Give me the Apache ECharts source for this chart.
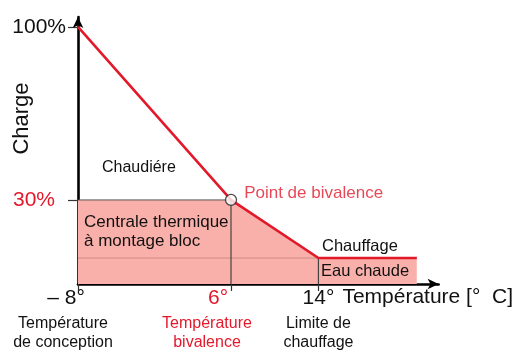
<!DOCTYPE html>
<html>
<head>
<meta charset="utf-8">
<script src="https://cdn.jsdelivr.net/npm/echarts@6/dist/echarts.min.js"></script>
<style>
  html, body { margin: 0; padding: 0; background: #fff; }
  #chart { width: 520px; height: 354px; }
</style>
</head>
<body>
<div id="chart"></div>
<script>
// Outdoor temperature ticks (°C) and their captions
const tempTicks = [-8, 6, 14];
const tempTickLabels = ['– 8°', '6°', '14°'];
const tempCaptions = [
  ['Température', 'de conception'],
  ['Température', 'bivalence'],
  ['Limite de', 'chauffage']
];
const tempAxisTitle = 'Température [°  C]';

// Load ticks (%)
const loadTicks = [30, 100];
const loadTickLabels = ['30%', '100%'];

// Total heat demand curve: temperature (°C) -> load (%)
const demandTemp = [-8, 6, 14, 23];
const demandLoad = [100, 30, 6.5, 6.5];

// Share covered by the CHP unit (capped at the bivalence load)
const chpTemp = [-8, 6, 14, 23];
const chpLoad = [30, 30, 6.5, 6.5];

// Hot-water base load (%) and its span (°C)
const hotWaterLoad = 6.5;
const hotWaterTemp = [-8, 14];

// Bivalence point [°C, %]
const bivalencePoint = [6, 30];

// Axis ranges
const tempMin = -8, tempMax = 25;
const loadMin = -4, loadMax = 104;

const RED = '#e2192b';
const FONT = '"Liberation Sans", Arial, sans-serif';

const chart = echarts.init(document.getElementById('chart'), null, { renderer: 'canvas' });

const pair = (xs, ys) => xs.map((x, i) => [x, ys[i]]);

// per-tick text styles (index 1 = bivalence temperature, in red)
const tickRich = {
  d0: { fontSize: 21, color: '#111', padding: [0, 24, 0, 0] },
  d1: { fontSize: 21, color: RED, padding: [0, 26, 0, 0] },
  d2: { fontSize: 21, color: '#111' }
};
const captionRich = {
  c0: { fontSize: 16, lineHeight: 19, color: '#111', textBorderWidth: 0, fontFamily: FONT },
  c1: { fontSize: 16, lineHeight: 19, color: RED, textBorderWidth: 0, fontFamily: FONT },
  c2: { fontSize: 16, lineHeight: 19, color: '#111', textBorderWidth: 0, fontFamily: FONT }
};
const captionShift = [-15, -24, 0];

const option = {
  animation: false,
  textStyle: { fontFamily: FONT },
  grid: {
    left: 78, top: 17, width: 33 * 153 / 14, height: 267,
    containLabel: false, outerBoundsMode: 'none'
  },
  xAxis: {
    type: 'value',
    min: tempMin,
    max: tempMax,
    axisLine: {
      show: true, onZero: false,
      symbol: ['none', 'arrow'], symbolSize: [8, 11],
      lineStyle: { color: '#000', width: 2.6 }
    },
    axisTick: {
      show: true, customValues: tempTicks, length: 7, inside: false,
      lineStyle: { color: '#333', width: 1.2 }
    },
    axisLabel: {
      show: true, customValues: tempTicks, margin: 4, hideOverlap: false,
      fontFamily: FONT, verticalAlign: 'top',
      formatter: function (v) {
        const i = tempTicks.indexOf(v);
        return i < 0 ? '' : '{d' + i + '|' + tempTickLabels[i] + '}';
      },
      rich: tickRich
    },
    splitLine: { show: false }
  },
  yAxis: {
    type: 'value',
    min: loadMin,
    max: loadMax,
    name: 'Charge',
    nameLocation: 'middle',
    nameRotate: 90,
    nameGap: 45,
    nameMoveOverlap: false,
    nameTextStyle: { fontSize: 22, color: '#111', padding: [0, 0, 0, 64], fontFamily: FONT },
    axisLine: {
      show: true, onZero: false,
      symbol: ['none', 'arrow'], symbolSize: [8, 11],
      lineStyle: { color: '#000', width: 2.6 }
    },
    axisTick: {
      show: true, customValues: loadTicks, length: 10,
      lineStyle: { color: '#333', width: 1.2 }
    },
    axisLabel: {
      show: true, customValues: loadTicks, margin: 12, hideOverlap: false,
      fontFamily: FONT,
      formatter: function (v) {
        const i = loadTicks.indexOf(v);
        if (i < 0) return '';
        return (v === bivalencePoint[1] ? '{r|' : '{k|') + loadTickLabels[i] + '}';
      },
      rich: {
        k: { fontSize: 21, color: '#111' },
        r: { fontSize: 21, color: RED, padding: [0, 11, 0, 0] }
      }
    },
    splitLine: { show: false }
  },
  series: [
    {
      // CHP unit share (filled)
      type: 'line',
      data: pair(chpTemp, chpLoad),
      symbol: 'none',
      lineStyle: { color: '#555', width: 1 },
      areaStyle: { color: '#f9b0aa', opacity: 1, origin: 'start' },
      z: 1
    },
    {
      // Hot-water base load boundary
      type: 'line',
      data: hotWaterTemp.map(t => [t, hotWaterLoad]),
      symbol: 'none',
      lineStyle: { color: '#cf8c86', width: 1 },
      z: 2
    },
    {
      // Drop line at the bivalence temperature
      type: 'line',
      data: [[bivalencePoint[0], bivalencePoint[1]], [bivalencePoint[0], loadMin]],
      symbol: 'none',
      lineStyle: { color: '#444', width: 1.2 },
      z: 2
    },
    {
      // Drop line at the heating limit
      type: 'line',
      data: [[tempTicks[2], hotWaterLoad], [tempTicks[2], loadMin]],
      symbol: 'none',
      lineStyle: { color: '#444', width: 1.2 },
      z: 2
    },
    {
      // Total heat demand
      type: 'line',
      data: pair(demandTemp, demandLoad),
      symbol: 'none',
      lineStyle: { color: RED, width: 2.6 },
      z: 3
    },
    {
      type: 'scatter',
      data: [bivalencePoint],
      symbol: 'circle',
      symbolSize: 11,
      itemStyle: { color: '#fff', borderColor: '#222', borderWidth: 1.3 },
      label: {
        show: true, position: 'right', distance: 7, offset: [0, -7],
        formatter: 'Point de bivalence', color: RED, fontSize: 17, fontFamily: FONT
      },
      z: 5
    },
    {
      // captions under the temperature ticks
      type: 'scatter',
      silent: true,
      clip: false,
      symbolSize: 1,
      itemStyle: { color: 'rgba(0,0,0,0)', opacity: 1 },
      data: tempTicks.map(t => [t, loadMin]),
      label: {
        show: true, position: 'bottom', distance: 30, align: 'center',
        color: '#111', opacity: 1, textBorderWidth: 0,
        formatter: function (p) {
          const i = p.dataIndex;
          const c = '{c' + i + '|';
          return c + tempCaptions[i][0] + '}\n' + c + tempCaptions[i][1] + '}';
        },
        rich: captionRich
      },
      labelLayout: function (p) {
        return { dx: captionShift[p.dataIndex], hideOverlap: false };
      },
      z: 5
    }
  ],
  graphic: [
    { type: 'text', z: 100, right: 7, top: 287, style: { text: tempAxisTitle, fontSize: 21, fill: '#111', fontFamily: FONT } },
    { type: 'text', z: 100, left: 102, top: 160, style: { text: 'Chaudiére', fontSize: 16, fill: '#111', fontFamily: FONT } },
    { type: 'text', z: 100, left: 84, top: 213, style: { text: 'Centrale thermique\nà montage bloc', fontSize: 17, lineHeight: 19, fill: '#111', fontFamily: FONT } },
    { type: 'text', z: 100, left: 322, top: 238, style: { text: 'Chauffage', fontSize: 16.5, fill: '#111', fontFamily: FONT } },
    { type: 'text', z: 100, left: 321, top: 263, style: { text: 'Eau chaude', fontSize: 16.5, fill: '#111', fontFamily: FONT } }
  ]
};

chart.setOption(option);
</script>
</body>
</html>
